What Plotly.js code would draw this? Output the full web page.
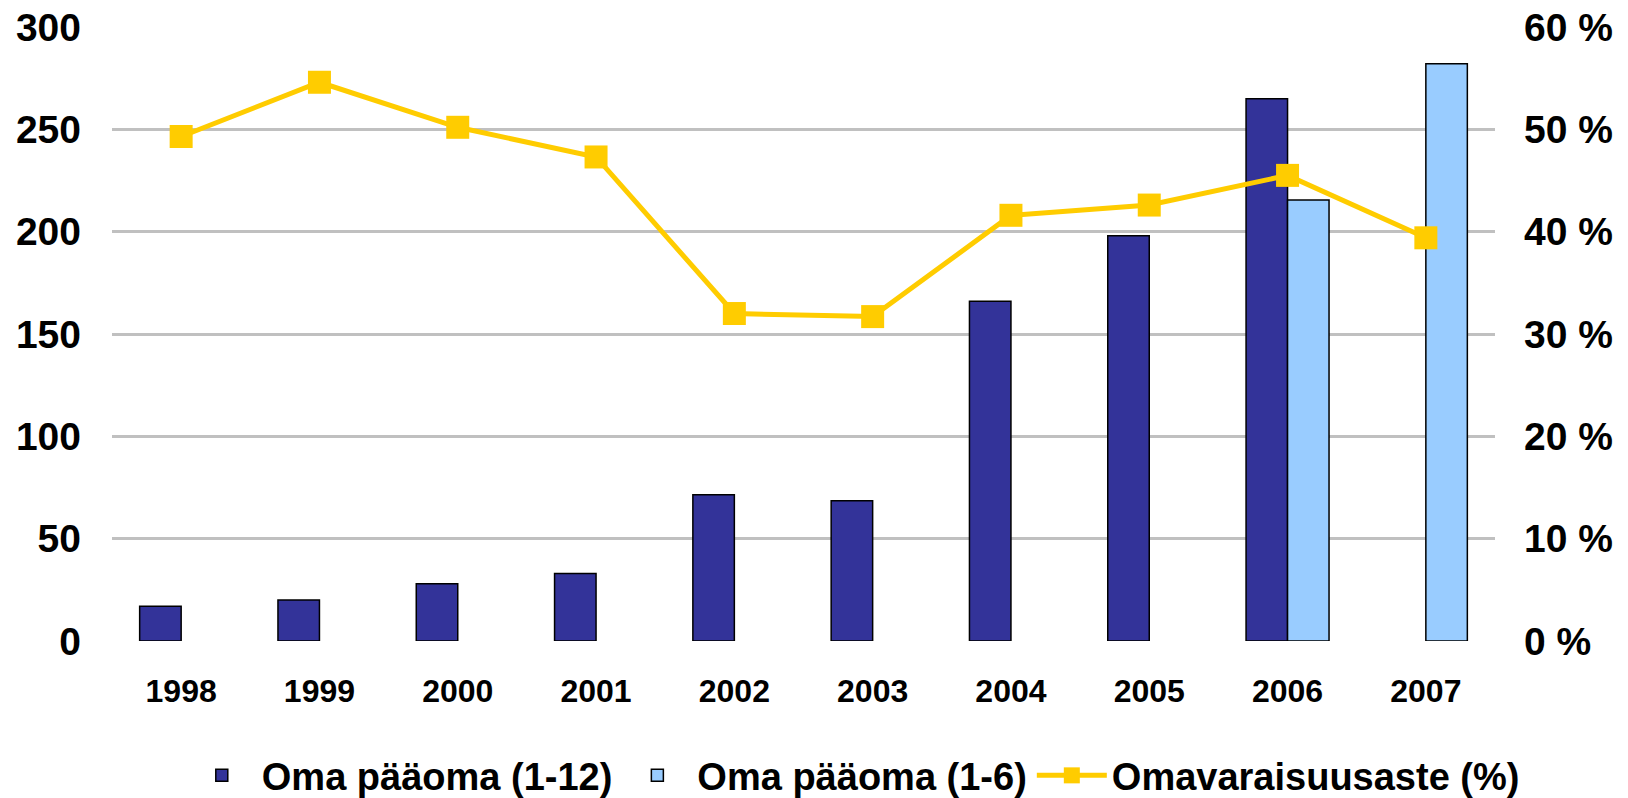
<!DOCTYPE html>
<html>
<head>
<meta charset="utf-8">
<script src="https://cdn.plot.ly/plotly-3.0.1.min.js"></script>
<style>html,body{margin:0;padding:0;background:#fff;}#chart{width:1628px;height:798px;}</style>
</head>
<body>
<div id="chart"></div>
<script>
const years = ['1998','1999','2000','2001','2002','2003','2004','2005','2006','2007'];
const equity12 = [17, 20, 28, 33, 71.5, 68.5, 166, 198, 265, null];
const equity6 = [null, null, null, null, null, null, null, null, 215.5, 282];
const solvency = [49.3, 54.6, 50.2, 47.3, 32.0, 31.7, 41.6, 42.6, 45.5, 39.4];
const names = ['Oma pääoma (1-12)', 'Oma pääoma (1-6)', 'Omavaraisuusaste (%)'];

const fontFam = 'Liberation Sans, Arial, sans-serif';

const traces = [
  {type:'bar', x:years, y:equity12, name:names[0],
   marker:{color:'#333399', line:{color:'#000', width:1.5}}},
  {type:'bar', x:years, y:equity6, name:names[1],
   marker:{color:'#99CCFF', line:{color:'#000', width:1.5}}},
  {type:'scatter', mode:'lines+markers', x:years, y:solvency, name:names[2], yaxis:'y2',
   line:{color:'#FFCC00', width:5}, marker:{symbol:'square', size:23, color:'#FFCC00'}}
];

const layout = {
  width:1628, height:798,
  margin:{l:112, r:133, t:27, b:157, autoexpand:false},
  paper_bgcolor:'#fff', plot_bgcolor:'#fff',
  barmode:'group', bargap:0.4, bargroupgap:0,
  font:{family:fontFam, color:'#000', weight:'bold'},
  showlegend:true,
  legend:{orientation:'h', x:0.536, xanchor:'center', yref:'container', y:0.028, yanchor:'middle',
          font:{family:fontFam, size:38, color:'#000', weight:'bold'}, traceorder:'normal',
          itemwidth:70},
  xaxis:{type:'category', range:[-0.5, 9.5], showgrid:false, zeroline:false, showline:false, ticks:'',
         tickfont:{family:fontFam, size:32, weight:'bold'}, ticklabelstandoff:28},
  yaxis:{range:[0,300], dtick:50, tick0:0, showgrid:true, gridcolor:'#C0C0C0', gridwidth:3,
         zeroline:false, showline:false, ticks:'',
         tickfont:{family:fontFam, size:39, weight:'bold'}, ticklabelstandoff:30},
  yaxis2:{range:[0,60], dtick:10, tick0:0, overlaying:'y', side:'right', showgrid:false,
          zeroline:false, showline:false, ticks:'', ticksuffix:' %',
          tickfont:{family:fontFam, size:39, weight:'bold'}, ticklabelstandoff:28}
};

Plotly.newPlot('chart', traces, layout, {displayModeBar:false, staticPlot:true});
</script>
</body>
</html>
